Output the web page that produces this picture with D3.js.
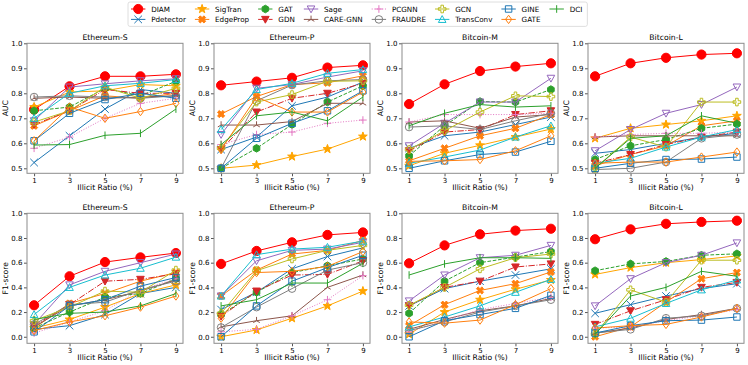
<!DOCTYPE html>
<html>
<head>
<meta charset="utf-8">
<script src="https://cdn.jsdelivr.net/npm/d3@7"></script>
<style>
body { margin: 0; background: #fff; }
svg text { font-family: "DejaVu Sans", sans-serif; fill: #000; }
.tick text { font-size: 7px; }
.tick line { stroke: #555; }
.domain { display: none; }
</style>
</head>
<body>
<svg id="chart" width="748" height="365"></svg>
<script>

// illicit ratio (%) on the x axis
var ratios = [1, 3, 5, 7, 9];

var methods = ["DIAM", "Pdetector", "SigTran", "EdgeProp", "GAT", "GDN", "Sage", "CARE-GNN",
               "PCGNN", "FRAUDRE", "GCN", "TransConv", "GINE", "GATE", "DCI"];

var datasets = ["Ethereum-S", "Ethereum-P", "Bitcoin-M", "Bitcoin-L"];

var aucTicks = [0.5, 0.6, 0.7, 0.8, 0.9, 1.0];
var f1Ticks = [0.0, 0.2, 0.4, 0.6, 0.8, 1.0];

// one row per method, same order as `methods`
var aucEthereumS = [
  [0.735, 0.828, 0.868, 0.868, 0.876],
  [0.523, 0.63, 0.737, 0.815, 0.80],
  [0.745, 0.805, 0.81, 0.835, 0.83],
  [0.67, 0.73, 0.79, 0.78, 0.80],
  [0.73, 0.745, 0.82, 0.79, 0.848],
  [0.675, 0.73, 0.815, 0.80, 0.80],
  [0.69, 0.825, 0.838, 0.85, 0.858],
  [0.78, 0.785, 0.78, 0.785, 0.79],
  [0.58, 0.625, 0.70, 0.76, 0.78],
  [0.785, 0.79, 0.785, 0.78, 0.79],
  [0.685, 0.73, 0.825, 0.78, 0.82],
  [0.70, 0.80, 0.83, 0.84, 0.855],
  [0.61, 0.72, 0.775, 0.80, 0.78],
  [0.61, 0.745, 0.70, 0.727, 0.76],
  [0.593, 0.595, 0.632, 0.64, 0.737]
];

var aucEthereumP = [
  [0.832, 0.847, 0.862, 0.903, 0.912],
  [0.575, 0.625, 0.75, 0.785, 0.845],
  [0.50, 0.513, 0.547, 0.577, 0.627],
  [0.717, 0.787, 0.835, 0.842, 0.87],
  [0.50, 0.58, 0.675, 0.765, 0.83],
  [0.575, 0.725, 0.78, 0.80, 0.84],
  [0.635, 0.82, 0.835, 0.865, 0.89],
  [0.673, 0.673, 0.687, 0.76, 0.76],
  [0.595, 0.635, 0.645, 0.68, 0.693],
  [0.50, 0.77, 0.833, 0.85, 0.855],
  [0.58, 0.765, 0.795, 0.848, 0.85],
  [0.655, 0.815, 0.84, 0.88, 0.895],
  [0.50, 0.62, 0.68, 0.73, 0.81],
  [0.575, 0.785, 0.725, 0.725, 0.805],
  [0.595, 0.71, 0.725, 0.69, 0.785]
];

var aucBitcoinM = [
  [0.757, 0.836, 0.889, 0.907, 0.92],
  [0.58, 0.63, 0.645, 0.675, 0.705],
  [0.51, 0.56, 0.592, 0.625, 0.657],
  [0.53, 0.58, 0.63, 0.66, 0.715],
  [0.55, 0.67, 0.767, 0.765, 0.815],
  [0.57, 0.645, 0.655, 0.715, 0.73],
  [0.59, 0.68, 0.765, 0.765, 0.86],
  [0.685, 0.69, 0.66, 0.705, 0.715],
  [0.685, 0.715, 0.715, 0.715, 0.72],
  [0.665, 0.67, 0.655, 0.69, 0.72],
  [0.575, 0.65, 0.725, 0.79, 0.787],
  [0.52, 0.545, 0.573, 0.625, 0.67],
  [0.50, 0.53, 0.555, 0.565, 0.608],
  [0.528, 0.53, 0.535, 0.57, 0.63],
  [0.67, 0.72, 0.755, 0.745, 0.75]
];

var aucBitcoinL = [
  [0.868, 0.92, 0.942, 0.955, 0.96],
  [0.56, 0.575, 0.60, 0.625, 0.64],
  [0.62, 0.66, 0.675, 0.69, 0.71],
  [0.51, 0.555, 0.59, 0.67, 0.69],
  [0.535, 0.59, 0.615, 0.66, 0.677],
  [0.52, 0.555, 0.595, 0.625, 0.645],
  [0.57, 0.655, 0.72, 0.755, 0.825],
  [0.625, 0.63, 0.63, 0.63, 0.63],
  [0.625, 0.635, 0.64, 0.64, 0.645],
  [0.495, 0.50, 0.525, 0.62, 0.635],
  [0.50, 0.625, 0.585, 0.765, 0.765],
  [0.52, 0.54, 0.585, 0.625, 0.655],
  [0.50, 0.52, 0.535, 0.537, 0.545],
  [0.52, 0.525, 0.525, 0.545, 0.565],
  [0.50, 0.62, 0.63, 0.71, 0.68]
];

var f1EthereumS = [
  [0.255, 0.49, 0.605, 0.643, 0.678],
  [0.06, 0.09, 0.18, 0.35, 0.40],
  [0.07, 0.14, 0.24, 0.35, 0.42],
  [0.07, 0.27, 0.35, 0.45, 0.52],
  [0.07, 0.20, 0.32, 0.35, 0.47],
  [0.09, 0.26, 0.45, 0.465, 0.51],
  [0.10, 0.42, 0.53, 0.60, 0.67],
  [0.08, 0.25, 0.30, 0.37, 0.46],
  [0.03, 0.12, 0.21, 0.38, 0.47],
  [0.10, 0.26, 0.28, 0.38, 0.45],
  [0.13, 0.24, 0.37, 0.36, 0.54],
  [0.18, 0.40, 0.50, 0.555, 0.645],
  [0.04, 0.25, 0.30, 0.41, 0.48],
  [0.05, 0.12, 0.17, 0.24, 0.33],
  [0.14, 0.19, 0.20, 0.25, 0.35]
];

var f1EthereumP = [
  [0.59, 0.695, 0.765, 0.825, 0.845],
  [0.22, 0.36, 0.55, 0.65, 0.72],
  [0.00, 0.055, 0.15, 0.25, 0.37],
  [0.33, 0.54, 0.67, 0.70, 0.78],
  [0.18, 0.36, 0.52, 0.575, 0.63],
  [0.165, 0.37, 0.50, 0.505, 0.615],
  [0.33, 0.615, 0.70, 0.71, 0.765],
  [0.08, 0.13, 0.17, 0.40, 0.50],
  [0.04, 0.06, 0.17, 0.30, 0.495],
  [0.075, 0.24, 0.39, 0.54, 0.60],
  [0.19, 0.535, 0.63, 0.70, 0.74],
  [0.33, 0.665, 0.71, 0.725, 0.775],
  [0.00, 0.25, 0.45, 0.56, 0.66],
  [0.15, 0.52, 0.53, 0.57, 0.69],
  [0.25, 0.30, 0.435, 0.435, 0.595]
];

var f1BitcoinM = [
  [0.595, 0.74, 0.83, 0.86, 0.875],
  [0.25, 0.39, 0.45, 0.50, 0.55],
  [0.02, 0.20, 0.30, 0.385, 0.46],
  [0.09, 0.26, 0.375, 0.43, 0.525],
  [0.19, 0.45, 0.60, 0.645, 0.69],
  [0.25, 0.40, 0.45, 0.565, 0.59],
  [0.29, 0.50, 0.64, 0.66, 0.74],
  [0.06, 0.14, 0.21, 0.25, 0.31],
  [0.04, 0.13, 0.22, 0.27, 0.32],
  [0.05, 0.12, 0.20, 0.25, 0.30],
  [0.255, 0.40, 0.55, 0.64, 0.67],
  [0.08, 0.16, 0.25, 0.36, 0.465],
  [0.00, 0.13, 0.18, 0.23, 0.335],
  [0.12, 0.11, 0.135, 0.26, 0.39],
  [0.50, 0.59, 0.64, 0.64, 0.635]
];

var f1BitcoinL = [
  [0.79, 0.87, 0.915, 0.93, 0.94],
  [0.19, 0.26, 0.33, 0.39, 0.43],
  [0.505, 0.56, 0.60, 0.625, 0.655],
  [0.00, 0.08, 0.28, 0.47, 0.52],
  [0.535, 0.59, 0.61, 0.66, 0.672],
  [0.10, 0.21, 0.30, 0.40, 0.44],
  [0.25, 0.47, 0.60, 0.66, 0.76],
  [0.03, 0.07, 0.14, 0.18, 0.23],
  [0.07, 0.08, 0.13, 0.17, 0.22],
  [0.03, 0.06, 0.15, 0.17, 0.23],
  [0.02, 0.38, 0.28, 0.62, 0.62],
  [0.08, 0.15, 0.27, 0.38, 0.46],
  [0.03, 0.09, 0.13, 0.135, 0.16],
  [0.07, 0.09, 0.10, 0.16, 0.23],
  [0.02, 0.33, 0.40, 0.53, 0.49]
];

// line/marker style per method
var styles = {
  "DIAM":      {color: "#ff0000", marker: "o", fill: true,  dash: null, size: 4.6},
  "Pdetector": {color: "#1f77b4", marker: "x", fill: false, dash: null},
  "SigTran":   {color: "#ffa500", marker: "*", fill: true,  dash: null, size: 4.6},
  "EdgeProp":  {color: "#ff7f0e", marker: "X", fill: true,  dash: null},
  "GAT":       {color: "#2ca02c", marker: "h", fill: true,  dash: "3.7,1.6"},
  "GDN":       {color: "#d62728", marker: "v", fill: true,  dash: "6.4,1.6,1,1.6"},
  "Sage":      {color: "#9467bd", marker: "v", fill: false, dash: null},
  "CARE-GNN":  {color: "#8c564b", marker: "2", fill: false, dash: null},
  "PCGNN":     {color: "#e377c2", marker: "+", fill: false, dash: "1,1.65"},
  "FRAUDRE":   {color: "#7f7f7f", marker: "o", fill: false, dash: null},
  "GCN":       {color: "#bcbd22", marker: "P", fill: false, dash: null},
  "TransConv": {color: "#17becf", marker: "^", fill: false, dash: null},
  "GINE":      {color: "#1f77b4", marker: "s", fill: false, dash: null},
  "GATE":      {color: "#ff7f0e", marker: "D", fill: false, dash: null},
  "DCI":       {color: "#2ca02c", marker: "|", fill: false, dash: null}
};

var panels = [
  {title: datasets[0], metric: "AUC", values: aucEthereumS},
  {title: datasets[1], metric: "AUC", values: aucEthereumP},
  {title: datasets[2], metric: "AUC", values: aucBitcoinM},
  {title: datasets[3], metric: "AUC", values: aucBitcoinL},
  {title: datasets[0], metric: "F1-score", values: f1EthereumS},
  {title: datasets[1], metric: "F1-score", values: f1EthereumP},
  {title: datasets[2], metric: "F1-score", values: f1BitcoinM},
  {title: datasets[3], metric: "F1-score", values: f1BitcoinL}
];

var colLeft = [27, 214, 402, 588],
    rowTop = [43.3, 213.3],
    pw = 156,
    ph = 130;

var svg = d3.select("#chart");

function poly(pts) {
  return "M" + pts.map(function(p) { return p[0].toFixed(2) + "," + p[1].toFixed(2); }).join("L") + "Z";
}

function markerPath(type, s) {
  var i, pts = [];
  switch (type) {
    case "o":
      return "M" + s + ",0A" + s + "," + s + " 0 1,1 " + (-s) + ",0A" + s + "," + s + " 0 1,1 " + s + ",0Z";
    case "x":
      return "M" + (-s) + "," + (-s) + "L" + s + "," + s + "M" + (-s) + "," + s + "L" + s + "," + (-s);
    case "+":
      return "M" + (-s) + ",0L" + s + ",0M0," + (-s) + "L0," + s;
    case "|":
      return "M0," + (-s) + "L0," + s;
    case "2":
      return "M0,0L0," + (-s) + "M0,0L" + (-s * 0.87) + "," + (s * 0.5) + "M0,0L" + (s * 0.87) + "," + (s * 0.5);
    case "s":
      s = s * 0.85;
      return poly([[-s, -s], [s, -s], [s, s], [-s, s]]);
    case "D":
      return poly([[0, -s * 1.1], [s * 0.8, 0], [0, s * 1.1], [-s * 0.8, 0]]);
    case "^":
      return poly([[0, -s], [s, s * 0.8], [-s, s * 0.8]]);
    case "v":
      return poly([[0, s], [s, -s * 0.8], [-s, -s * 0.8]]);
    case "h":
      for (i = 0; i < 6; i++) {
        var a = Math.PI / 3 * i - Math.PI / 2;
        pts.push([s * Math.cos(a), s * Math.sin(a)]);
      }
      return poly(pts);
    case "*":
      for (i = 0; i < 10; i++) {
        var b = Math.PI / 5 * i - Math.PI / 2, r = i % 2 ? s * 0.4 : s;
        pts.push([r * Math.cos(b), r * Math.sin(b)]);
      }
      return poly(pts);
    case "P":
    case "X":
      var w = s / 3;
      pts = [[-w, -s], [w, -s], [w, -w], [s, -w], [s, w], [w, w], [w, s], [-w, s], [-w, w], [-s, w], [-s, -w], [-w, -w]];
      if (type == "X") {
        pts = pts.map(function(p) {
          return [(p[0] - p[1]) * 0.7071, (p[0] + p[1]) * 0.7071];
        });
      }
      return poly(pts);
  }
}

function drawMarker(g, name, x, y) {
  var st = styles[name], s = st.size || 3.8;
  g.append("path")
      .attr("transform", "translate(" + x + "," + y + ")")
      .attr("d", markerPath(st.marker, s))
      .attr("fill", st.fill ? st.color : "none")
      .attr("stroke", st.color)
      .attr("stroke-width", 1)
      .attr("stroke-linejoin", "miter");
}

panels.forEach(function(p, k) {
  var row = Math.floor(k / 4), col = k % 4;
  var left = colLeft[col], top = rowTop[row];

  var x = d3.scaleLinear().domain([0.6, 9.4]).range([0, pw]);
  var y = row == 0
      ? d3.scaleLinear().domain([0.48, 1.0]).range([ph, 0])
      : d3.scaleLinear().domain([-0.053, 1.0]).range([ph, 0]);

  var g = svg.append("g").attr("transform", "translate(" + left + "," + top + ")");

  g.append("g")
      .attr("transform", "translate(0," + ph + ")")
      .call(d3.axisBottom(x).tickValues(ratios).tickSize(3).tickPadding(1.5).tickFormat(d3.format("d")));

  g.append("g")
      .call(d3.axisLeft(y).tickValues(row == 0 ? aucTicks : f1Ticks).tickSize(3).tickPadding(1.5).tickFormat(d3.format(".1f")));

  var clip = "clip" + k;
  g.append("clipPath").attr("id", clip)
    .append("rect").attr("x", -6).attr("y", -6).attr("width", pw + 12).attr("height", ph + 12);

  var plot = g.append("g").attr("clip-path", "url(#" + clip + ")");

  var line = d3.line()
      .x(function(d, i) { return x(ratios[i]); })
      .y(function(d) { return y(d); });

  methods.forEach(function(m, j) {
    var st = styles[m], vals = p.values[j];
    plot.append("path")
        .attr("d", line(vals))
        .attr("fill", "none")
        .attr("stroke", st.color)
        .attr("stroke-width", 1)
        .attr("stroke-dasharray", st.dash);
    vals.forEach(function(v, i) { drawMarker(plot, m, x(ratios[i]), y(v)); });
  });

  g.append("rect")
      .attr("width", pw).attr("height", ph)
      .attr("fill", "none")
      .attr("stroke", "#8c8c8c")
      .attr("stroke-width", 1);

  g.append("text")
      .attr("x", pw / 2).attr("y", -3.5)
      .attr("text-anchor", "middle")
      .style("font-size", "7.7px")
      .text(p.title);

  g.append("text")
      .attr("x", pw / 2).attr("y", ph + 17)
      .attr("text-anchor", "middle")
      .style("font-size", "7.6px")
      .text("Illicit Ratio (%)");

  g.append("text")
      .attr("transform", "translate(-19," + (ph / 2) + ") rotate(-90)")
      .attr("text-anchor", "middle")
      .style("font-size", "7.6px")
      .text(p.metric);
});

// legend: 8 columns, 2 rows, filled column by column
var legend = svg.append("g").attr("transform", "translate(128,2)");
var legendBox = legend.append("rect")
    .attr("rx", 2).attr("ry", 2)
    .attr("fill", "#fff")
    .attr("stroke", "#d6d6d6")
    .attr("stroke-width", 0.8);

var handleLen = 14.4, handlePad = 5.8, colGap = 9, rowH = 10.4, padX = 3;
var cx = padX, colWidth = 0;
methods.forEach(function(m, j) {
  var r = j % 2;
  if (r == 0 && j > 0) { cx += colWidth + colGap; colWidth = 0; }
  var cy = 7 + r * rowH;
  var st = styles[m];
  legend.append("line")
      .attr("x1", cx).attr("x2", cx + handleLen)
      .attr("y1", cy).attr("y2", cy)
      .attr("stroke", st.color)
      .attr("stroke-width", 1)
      .attr("stroke-dasharray", st.dash);
  drawMarker(legend, m, cx + handleLen / 2, cy);
  var t = legend.append("text")
      .attr("x", cx + handleLen + handlePad).attr("y", cy + 2.6)
      .style("font-size", "7.2px")
      .text(m);
  colWidth = Math.max(colWidth, handleLen + handlePad + t.node().getComputedTextLength());
});
legendBox.attr("x", 0).attr("y", 0)
    .attr("width", cx + colWidth + padX + 2)
    .attr("height", 7 + rowH + 7);

</script>
</body>
</html>
